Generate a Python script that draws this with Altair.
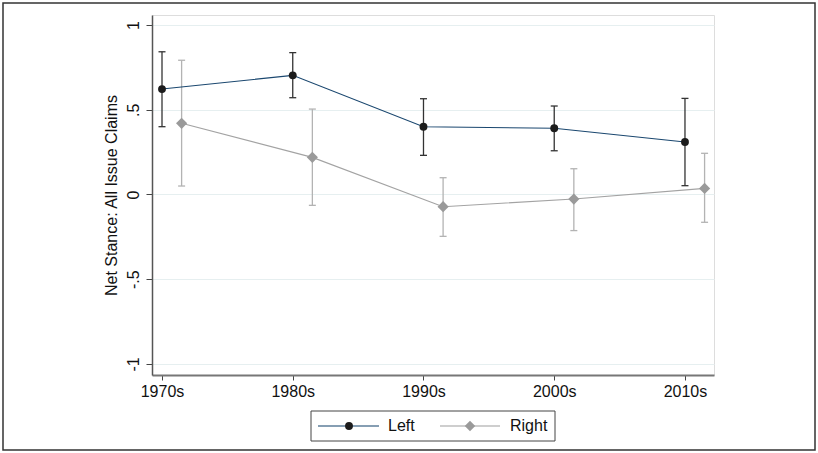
import altair as alt
import pandas as pd

# Decades on the x axis
decades = ["1970s", "1980s", "1990s", "2000s", "2010s"]

# Net stance estimates with 95% confidence limits
left_est = [0.622, 0.703, 0.400, 0.391, 0.310]
left_lo = [0.400, 0.571, 0.231, 0.258, 0.052]
left_hi = [0.842, 0.837, 0.565, 0.522, 0.567]

right_est = [0.420, 0.219, -0.072, -0.027, 0.036]
right_lo = [0.050, -0.064, -0.247, -0.213, -0.164]
right_hi = [0.792, 0.504, 0.099, 0.152, 0.243]

sides = ["Left", "Right"]

rows = []
for i, d in enumerate(decades):
    rows.append({"decade": d, "idx": i, "side": "Left",
                 "est": left_est[i], "lo": left_lo[i], "hi": left_hi[i]})
    rows.append({"decade": d, "idx": i, "side": "Right",
                 "est": right_est[i], "lo": right_lo[i], "hi": right_hi[i]})
df = pd.DataFrame(rows)

W, H = 562, 360
FONT = "Liberation Sans"
FS = 16

line_col = {"Left": "#1a476f", "Right": "#a3a3a3"}
marker_col = {"Left": "#1c1c1c", "Right": "#9a9a9a"}
bar_col = {"Left": "#333333", "Right": "#b3b3b3"}

base = alt.Chart(df).transform_calculate(
    xpos="datum.idx + (datum.side === 'Right' ? 0.15 : 0)"
)

x_enc = alt.X(
    "xpos:Q",
    scale=alt.Scale(domain=[-0.0765, 4.222], nice=False, zero=False),
    axis=alt.Axis(
        values=[0, 1, 2, 3, 4],
        labelExpr="['1970s','1980s','1990s','2000s','2010s'][round(datum.value)]",
        title=None, grid=False, tickSize=5, tickColor="#444",
        domainColor="#777", domainWidth=2, labelFontSize=FS,
        labelPadding=3, labelFont=FONT, labelColor="#111",
    ),
)
y_scale = alt.Scale(domain=[-1.065, 1.059], nice=False, zero=False)
y_axis = alt.Axis(
    values=[-1, -0.5, 0, 0.5, 1],
    labelExpr="datum.value == 1 ? '1' : datum.value == 0.5 ? '.5' : datum.value == 0 ? '0' : datum.value == -0.5 ? '-.5' : '-1'",
    labelAngle=270, labelFontSize=FS, labelFont=FONT, labelColor="#111",
    labelPadding=5,
    tickSize=6, tickColor="#444", domainColor="#555", domainWidth=1.5,
    grid=True, gridColor="#e6eff0", gridWidth=1,
    title="Net Stance: All Issue Claims", titleFont=FONT, titleFontSize=FS,
    titleFontWeight="normal", titleColor="#111", titlePadding=6,
)

def side_scale(colors):
    return alt.Scale(domain=sides, range=[colors[s] for s in sides])

bars = base.mark_rule(strokeWidth=1.3).encode(
    x=x_enc,
    y=alt.Y("lo:Q", scale=y_scale, axis=y_axis),
    y2="hi:Q",
    color=alt.Color("side:N", scale=side_scale(bar_col), legend=None),
)
caps_lo = base.mark_tick(orient="horizontal", size=7, thickness=1.3, opacity=1).encode(
    x="xpos:Q", y="lo:Q",
    color=alt.Color("side:N", scale=side_scale(bar_col), legend=None),
)
caps_hi = base.mark_tick(orient="horizontal", size=7, thickness=1.3, opacity=1).encode(
    x="xpos:Q", y="hi:Q",
    color=alt.Color("side:N", scale=side_scale(bar_col), legend=None),
)
lines = base.mark_line(strokeWidth=1.1).encode(
    x="xpos:Q", y="est:Q",
    stroke=alt.Stroke("side:N", scale=side_scale(line_col), legend=None),
    detail="side:N",
)
points = base.mark_point(filled=True, opacity=1).encode(
    x="xpos:Q", y="est:Q",
    fill=alt.Fill("side:N", scale=side_scale(marker_col), legend=None),
    shape=alt.Shape("side:N", scale=alt.Scale(domain=sides, range=["circle", "diamond"]), legend=None),
    size=alt.Size("side:N", scale=alt.Scale(domain=sides, range=[62, 125]), legend=None),
)

# Legend box below the axis: key line, marker and label for each series
one = pd.DataFrame({"k": [0]})
legend_y = 411
legend_layers = [
    alt.Chart(one).mark_rect(fill="white", stroke="#444", strokeWidth=1).encode(
        x=alt.value(159), x2=alt.value(403), y=alt.value(396), y2=alt.value(426)
    )
]
key_spec = {"Left": (166, 227, 197, "circle", 62, 236),
            "Right": (288, 348, 318, "diamond", 110, 358)}
for s in sides:
    x0, x1, xm, shp, sz, xt = key_spec[s]
    legend_layers.append(
        alt.Chart(one).mark_rule(stroke=line_col[s], strokeWidth=1.6, opacity=0.7).encode(
            x=alt.value(x0), x2=alt.value(x1), y=alt.value(legend_y)
        )
    )
    legend_layers.append(
        alt.Chart(one).mark_point(filled=True, opacity=1, fill=marker_col[s],
                                  shape=shp, size=sz).encode(
            x=alt.value(xm), y=alt.value(legend_y)
        )
    )
    legend_layers.append(
        alt.Chart(one).mark_text(text=s, align="left", baseline="middle",
                                 font=FONT, fontSize=FS, color="#111").encode(
            x=alt.value(xt), y=alt.value(legend_y)
        )
    )

# Outer frame around the whole figure
frame = alt.Chart(one).mark_rect(
    fill=None, stroke="#333", strokeWidth=1.5
).encode(
    x=alt.value(-149), x2=alt.value(663), y=alt.value(-12), y2=alt.value(435)
)

chart = alt.layer(
    frame, bars, caps_lo, caps_hi, lines, points, *legend_layers
).resolve_scale(
    color="independent", fill="independent", stroke="independent",
    shape="independent", size="independent",
).properties(
    width=W, height=H,
    autosize=alt.AutoSizeParams(type="none"),
    padding={"left": 152, "top": 15, "right": 104, "bottom": 78},
).configure_view(stroke=None).configure(background="white")

chart.save("out.html", embed_options={"renderer": "svg", "actions": False})
